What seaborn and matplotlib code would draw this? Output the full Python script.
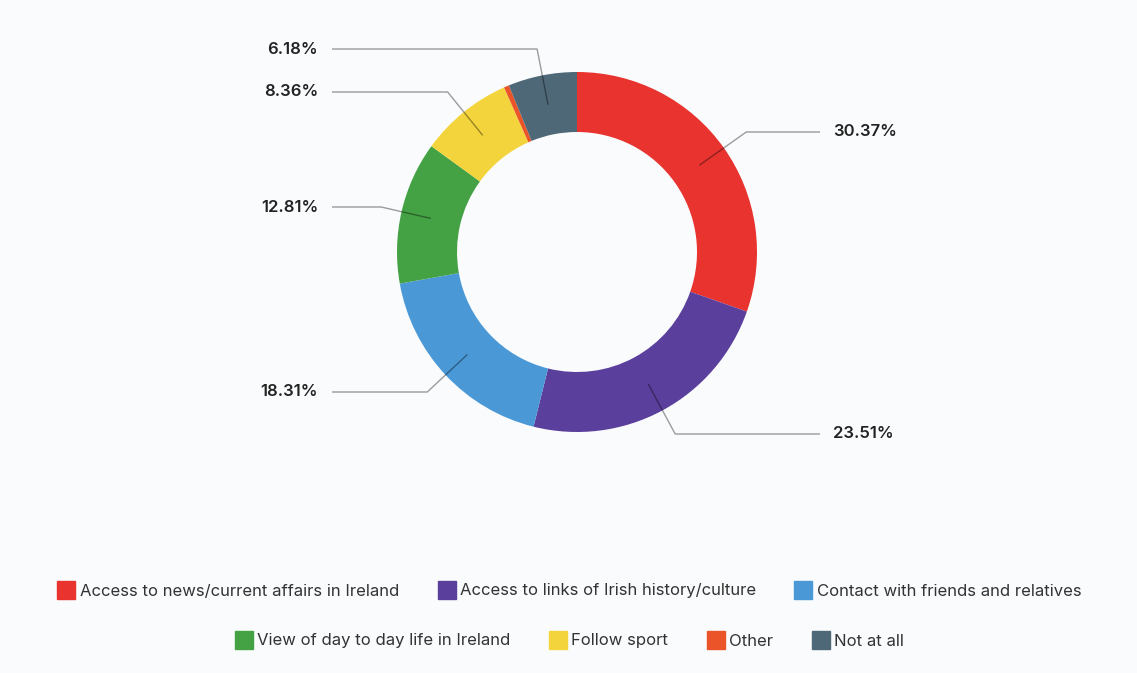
import numpy as np
import matplotlib
matplotlib.use("Agg")
import matplotlib.pyplot as plt
from matplotlib.lines import Line2D
import seaborn as sns

# Survey answers and their shares (%)
categories = [
    "Access to news/current affairs in Ireland",
    "Access to links of Irish history/culture",
    "Contact with friends and relatives",
    "View of day to day life in Ireland",
    "Follow sport",
    "Other",
    "Not at all",
]
shares = [30.37, 23.51, 18.31, 12.81, 8.36, 0.46, 6.18]
show_label = [True, True, True, True, True, False, True]
colors = ["#e8332f", "#5b3f9c", "#4a98d6", "#44a144", "#f4d43c", "#ea5428", "#4f6878"]

sns.set_theme(style="white")
plt.rcParams["font.family"] = ["Inter", "DejaVu Sans"]

W, H = 1137, 673
BG = "#f9fbfc"
fig = plt.figure(figsize=(W / 100, H / 100), dpi=100, facecolor=BG)
ax = fig.add_axes([0, 0, 1, 1])
ax.set_facecolor(BG)

cx, cy = 577, H - 252
R, ring = 180, 60
palette = sns.color_palette(colors)
wedges, _ = ax.pie(
    shares, colors=palette, startangle=90, counterclock=False,
    radius=R, center=(cx, cy), frame=True,
    wedgeprops=dict(width=ring, linewidth=0),
)
ax.set_xlim(0, W)
ax.set_ylim(0, H)
ax.set_aspect("equal")
ax.axis("off")

# Label rows (screen y) for each labelled slice
label_rows = {0: 132, 1: 434, 2: 392, 3: 207, 4: 92, 6: 49}
left_x, right_x = 332, 820

for i, w in enumerate(wedges):
    if not show_label[i]:
        continue
    ang = np.deg2rad((w.theta1 + w.theta2) / 2)
    ca, sa = np.cos(ang), np.sin(ang)
    anchor = (cx + (R - ring / 2) * ca, cy + (R - ring / 2) * sa)
    ly = H - label_rows[i]
    r_el = (ly - cy) / sa
    elbow = (cx + r_el * ca, ly)
    end_x = right_x if ca > 0 else left_x
    ax.plot([anchor[0], elbow[0], end_x], [anchor[1], elbow[1], ly],
            color="black", alpha=0.38, lw=1.0, solid_capstyle="butt")
    txt = f"{shares[i]:.2f}%"
    if ca > 0:
        ax.text(end_x + 13, ly, txt, ha="left", va="center",
                fontsize=12, fontweight="semibold", color="#222222")
    else:
        ax.text(end_x - 14, ly, txt, ha="right", va="center",
                fontsize=12, fontweight="semibold", color="#222222")

def handles(idx):
    return [Line2D([0], [0], marker="s", linestyle="none", markersize=12.5,
                   markerfacecolor=colors[k], markeredgecolor=colors[k])
            for k in idx]

row1 = [0, 1, 2]
row2 = [3, 4, 5, 6]
common = dict(frameon=False, fontsize=12, handletextpad=0.15,
              handlelength=1.3, labelcolor="#333333", borderaxespad=0)
fig.legend(handles(row1), [categories[k] for k in row1], ncol=3,
           loc="center", bbox_to_anchor=(0.5, 1 - 591 / H),
           columnspacing=2.2, **common)
fig.legend(handles(row2), [categories[k] for k in row2], ncol=4,
           loc="center", bbox_to_anchor=(0.5, 1 - 641 / H),
           columnspacing=2.2, **common)

fig.savefig("out.png", dpi=100, facecolor=BG)
